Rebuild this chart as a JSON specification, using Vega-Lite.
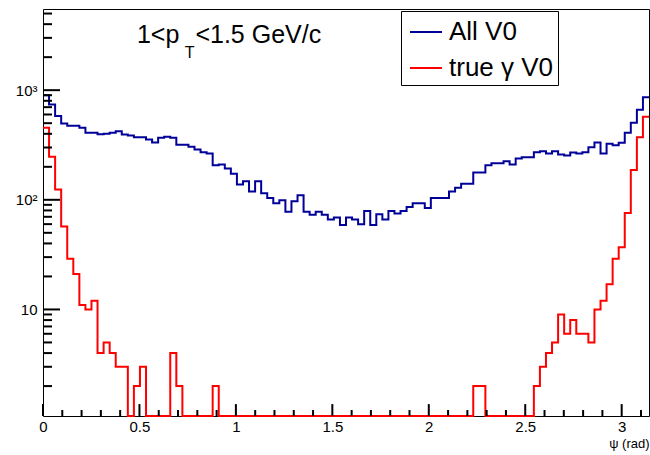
{
  "$schema": "https://vega.github.io/schema/vega-lite/v6.json",
  "width": 606,
  "height": 407,
  "autosize": "none",
  "padding": {"left": 43, "top": 9, "right": 1, "bottom": 39},
  "background": "white",
  "config": {
    "view": {"stroke": "black", "strokeWidth": 1},
    "axis": {"grid": false, "domain": false, "labelColor": "black", "labelFont": "Liberation Sans", "labelFontSize": 15, "titleFont": "Liberation Sans", "titleColor": "black", "titleFontWeight": "normal", "labelFlush": false}
  },
  "datasets": {
    "hist": [
      {"psi": 0, "All V0": 900, "true γ V0": 454},
      {"psi": 0.0314, "All V0": 741, "true γ V0": 247},
      {"psi": 0.0628, "All V0": 580, "true γ V0": 124},
      {"psi": 0.0942, "All V0": 497, "true γ V0": 57},
      {"psi": 0.1257, "All V0": 473, "true γ V0": 29},
      {"psi": 0.1571, "All V0": 473, "true γ V0": 21},
      {"psi": 0.1885, "All V0": 454, "true γ V0": 11},
      {"psi": 0.2199, "All V0": 409, "true γ V0": 10},
      {"psi": 0.2513, "All V0": 409, "true γ V0": 12},
      {"psi": 0.2827, "All V0": 397, "true γ V0": 4},
      {"psi": 0.3142, "All V0": 400, "true γ V0": 5},
      {"psi": 0.3456, "All V0": 409, "true γ V0": 4},
      {"psi": 0.3770, "All V0": 421, "true γ V0": 3},
      {"psi": 0.4084, "All V0": 394, "true γ V0": 3},
      {"psi": 0.4398, "All V0": 386, "true γ V0": 0},
      {"psi": 0.4712, "All V0": 373, "true γ V0": 2},
      {"psi": 0.5027, "All V0": 373, "true γ V0": 3},
      {"psi": 0.5341, "All V0": 355, "true γ V0": 0},
      {"psi": 0.5655, "All V0": 333, "true γ V0": 0},
      {"psi": 0.5969, "All V0": 368, "true γ V0": 0},
      {"psi": 0.6283, "All V0": 376, "true γ V0": 0},
      {"psi": 0.6597, "All V0": 368, "true γ V0": 4},
      {"psi": 0.6912, "All V0": 318, "true γ V0": 2},
      {"psi": 0.7226, "All V0": 318, "true γ V0": 0},
      {"psi": 0.7540, "All V0": 304, "true γ V0": 0},
      {"psi": 0.7854, "All V0": 287, "true γ V0": 0},
      {"psi": 0.8168, "All V0": 272, "true γ V0": 0},
      {"psi": 0.8482, "All V0": 265, "true γ V0": 0},
      {"psi": 0.8796, "All V0": 207, "true γ V0": 2},
      {"psi": 0.9111, "All V0": 210, "true γ V0": 0},
      {"psi": 0.9425, "All V0": 193, "true γ V0": 0},
      {"psi": 0.9739, "All V0": 173, "true γ V0": 0},
      {"psi": 1.0053, "All V0": 138, "true γ V0": 0},
      {"psi": 1.0367, "All V0": 148, "true γ V0": 0},
      {"psi": 1.0681, "All V0": 119, "true γ V0": 0},
      {"psi": 1.0996, "All V0": 148, "true γ V0": 0},
      {"psi": 1.1310, "All V0": 115, "true γ V0": 0},
      {"psi": 1.1624, "All V0": 104, "true γ V0": 0},
      {"psi": 1.1938, "All V0": 93, "true γ V0": 0},
      {"psi": 1.2252, "All V0": 99, "true γ V0": 0},
      {"psi": 1.2566, "All V0": 78, "true γ V0": 0},
      {"psi": 1.2881, "All V0": 97, "true γ V0": 0},
      {"psi": 1.3195, "All V0": 110, "true γ V0": 0},
      {"psi": 1.3509, "All V0": 78, "true γ V0": 0},
      {"psi": 1.3823, "All V0": 73, "true γ V0": 0},
      {"psi": 1.4137, "All V0": 78, "true γ V0": 0},
      {"psi": 1.4451, "All V0": 73, "true γ V0": 0},
      {"psi": 1.4765, "All V0": 66, "true γ V0": 0},
      {"psi": 1.5080, "All V0": 69, "true γ V0": 0},
      {"psi": 1.5394, "All V0": 59, "true γ V0": 0},
      {"psi": 1.5708, "All V0": 69, "true γ V0": 0},
      {"psi": 1.6022, "All V0": 66, "true γ V0": 0},
      {"psi": 1.6336, "All V0": 60, "true γ V0": 0},
      {"psi": 1.6650, "All V0": 79, "true γ V0": 0},
      {"psi": 1.6965, "All V0": 59, "true γ V0": 0},
      {"psi": 1.7279, "All V0": 74, "true γ V0": 0},
      {"psi": 1.7593, "All V0": 66, "true γ V0": 0},
      {"psi": 1.7907, "All V0": 79, "true γ V0": 0},
      {"psi": 1.8221, "All V0": 75, "true γ V0": 0},
      {"psi": 1.8535, "All V0": 79, "true γ V0": 0},
      {"psi": 1.8850, "All V0": 86, "true γ V0": 0},
      {"psi": 1.9164, "All V0": 93, "true γ V0": 0},
      {"psi": 1.9478, "All V0": 93, "true γ V0": 0},
      {"psi": 1.9792, "All V0": 84, "true γ V0": 0},
      {"psi": 2.0106, "All V0": 104, "true γ V0": 0},
      {"psi": 2.0420, "All V0": 104, "true γ V0": 0},
      {"psi": 2.0735, "All V0": 104, "true γ V0": 0},
      {"psi": 2.1049, "All V0": 119, "true γ V0": 0},
      {"psi": 2.1363, "All V0": 129, "true γ V0": 0},
      {"psi": 2.1677, "All V0": 140, "true γ V0": 0},
      {"psi": 2.1991, "All V0": 140, "true γ V0": 0},
      {"psi": 2.2305, "All V0": 177, "true γ V0": 2},
      {"psi": 2.2619, "All V0": 177, "true γ V0": 2},
      {"psi": 2.2934, "All V0": 207, "true γ V0": 0},
      {"psi": 2.3248, "All V0": 216, "true γ V0": 0},
      {"psi": 2.3562, "All V0": 216, "true γ V0": 0},
      {"psi": 2.3876, "All V0": 225, "true γ V0": 0},
      {"psi": 2.4190, "All V0": 210, "true γ V0": 0},
      {"psi": 2.4504, "All V0": 238, "true γ V0": 0},
      {"psi": 2.4819, "All V0": 245, "true γ V0": 0},
      {"psi": 2.5133, "All V0": 245, "true γ V0": 0},
      {"psi": 2.5447, "All V0": 272, "true γ V0": 2},
      {"psi": 2.5761, "All V0": 278, "true γ V0": 3},
      {"psi": 2.6075, "All V0": 265, "true γ V0": 4},
      {"psi": 2.6389, "All V0": 278, "true γ V0": 5},
      {"psi": 2.6704, "All V0": 259, "true γ V0": 9},
      {"psi": 2.7018, "All V0": 254, "true γ V0": 6},
      {"psi": 2.7332, "All V0": 270, "true γ V0": 8},
      {"psi": 2.7646, "All V0": 265, "true γ V0": 6},
      {"psi": 2.7960, "All V0": 272, "true γ V0": 6},
      {"psi": 2.8274, "All V0": 302, "true γ V0": 5},
      {"psi": 2.8588, "All V0": 333, "true γ V0": 10},
      {"psi": 2.8903, "All V0": 265, "true γ V0": 12},
      {"psi": 2.9217, "All V0": 324, "true γ V0": 17},
      {"psi": 2.9531, "All V0": 315, "true γ V0": 29},
      {"psi": 2.9845, "All V0": 331, "true γ V0": 37},
      {"psi": 3.0159, "All V0": 409, "true γ V0": 76},
      {"psi": 3.0473, "All V0": 505, "true γ V0": 187},
      {"psi": 3.0788, "All V0": 662, "true γ V0": 373},
      {"psi": 3.1102, "All V0": 863, "true γ V0": 571},
      {"psi": 3.1416, "All V0": 863, "true γ V0": 571}
    ],
    "xmajor": [{"v": 0}, {"v": 0.5}, {"v": 1}, {"v": 1.5}, {"v": 2}, {"v": 2.5}, {"v": 3}],
    "xminor": [{"v": 0.1}, {"v": 0.2}, {"v": 0.3}, {"v": 0.4}, {"v": 0.6}, {"v": 0.7}, {"v": 0.8}, {"v": 0.9}, {"v": 1.1}, {"v": 1.2}, {"v": 1.3}, {"v": 1.4}, {"v": 1.6}, {"v": 1.7}, {"v": 1.8}, {"v": 1.9}, {"v": 2.1}, {"v": 2.2}, {"v": 2.3}, {"v": 2.4}, {"v": 2.6}, {"v": 2.7}, {"v": 2.8}, {"v": 2.9}, {"v": 3.1}],
    "ymajor": [{"v": 10}, {"v": 100}, {"v": 1000}],
    "yminor": [{"v": 2}, {"v": 3}, {"v": 4}, {"v": 5}, {"v": 6}, {"v": 7}, {"v": 8}, {"v": 9}, {"v": 20}, {"v": 30}, {"v": 40}, {"v": 50}, {"v": 60}, {"v": 70}, {"v": 80}, {"v": 90}, {"v": 200}, {"v": 300}, {"v": 400}, {"v": 500}, {"v": 600}, {"v": 700}, {"v": 800}, {"v": 900}, {"v": 2000}, {"v": 3000}, {"v": 4000}, {"v": 5000}]
  },
  "layer": [
    {
      "data": {"name": "hist"},
      "transform": [{"fold": ["All V0", "true γ V0"], "as": ["series", "count"]}],
      "mark": {"type": "line", "interpolate": "step-after", "strokeWidth": 2, "clip": false},
      "encoding": {
        "x": {"field": "psi", "type": "quantitative",
              "scale": {"domain": [0, 3.1416], "nice": false, "zero": false},
              "axis": {"values": [0, 0.5, 1, 1.5, 2, 2.5, 3], "format": "~g", "ticks": false, "labelPadding": 3, "title": "ψ (rad)", "titleAnchor": "end", "titleAlign": "right", "titleFontSize": 13, "titlePadding": 3}},
        "y": {"field": "count", "type": "quantitative",
              "scale": {"type": "log", "domain": [1.067, 5500], "nice": false, "clamp": true},
              "axis": {"values": [10, 100, 1000], "labelExpr": "datum.value == 1000 ? '10³' : datum.value == 100 ? '10²' : '10'", "ticks": false, "labelPadding": 6, "title": null}},
        "color": {"field": "series", "type": "nominal",
                  "scale": {"domain": ["All V0", "true γ V0"], "range": ["#000099", "#ff0000"]},
                  "legend": {"orient": "none", "legendX": 358, "legendY": 2, "title": null, "strokeColor": "black", "fillColor": "white", "padding": 4, "symbolType": "stroke", "symbolSize": 1024, "symbolStrokeWidth": 2, "symbolOffset": 4, "labelOffset": 6, "labelFont": "Liberation Sans", "labelFontSize": 26, "labelColor": "black", "rowPadding": 6, "labelLimit": 300}}
      }
    },
    {
      "data": {"name": "xmajor"},
      "mark": {"type": "rule", "color": "black", "strokeWidth": 2},
      "encoding": {
        "x": {"field": "v", "type": "quantitative", "axis": null},
        "y": {"datum": 1.067, "type": "quantitative", "axis": null},
        "y2": {"datum": 1.37}
      }
    },
    {
      "data": {"name": "xminor"},
      "mark": {"type": "rule", "color": "black", "strokeWidth": 2},
      "encoding": {
        "x": {"field": "v", "type": "quantitative", "axis": null},
        "y": {"datum": 1.067, "type": "quantitative", "axis": null},
        "y2": {"datum": 1.21}
      }
    },
    {
      "data": {"name": "ymajor"},
      "mark": {"type": "rule", "color": "black", "strokeWidth": 2},
      "encoding": {
        "y": {"field": "v", "type": "quantitative", "axis": null},
        "x": {"datum": 0, "type": "quantitative", "axis": null},
        "x2": {"datum": 0.088}
      }
    },
    {
      "data": {"name": "yminor"},
      "mark": {"type": "rule", "color": "black", "strokeWidth": 2},
      "encoding": {
        "y": {"field": "v", "type": "quantitative", "axis": null},
        "x": {"datum": 0, "type": "quantitative", "axis": null},
        "x2": {"datum": 0.0467}
      }
    },
    {
      "data": {"values": [{"t": "1<p"}]},
      "mark": {"type": "text", "align": "left", "baseline": "alphabetic", "font": "Liberation Sans", "fontSize": 25, "color": "black"},
      "encoding": {
        "x": {"datum": 0.487, "type": "quantitative", "axis": null},
        "y": {"datum": 2675, "type": "quantitative", "axis": null},
        "text": {"field": "t"}
      }
    },
    {
      "data": {"values": [{"t": "T"}]},
      "mark": {"type": "text", "align": "left", "baseline": "alphabetic", "font": "Liberation Sans", "fontSize": 16, "color": "black"},
      "encoding": {
        "x": {"datum": 0.735, "type": "quantitative", "axis": null},
        "y": {"datum": 1963, "type": "quantitative", "axis": null},
        "text": {"field": "t"}
      }
    },
    {
      "data": {"values": [{"t": "<1.5 GeV/c"}]},
      "mark": {"type": "text", "align": "left", "baseline": "alphabetic", "font": "Liberation Sans", "fontSize": 25, "color": "black"},
      "encoding": {
        "x": {"datum": 0.79, "type": "quantitative", "axis": null},
        "y": {"datum": 2675, "type": "quantitative", "axis": null},
        "text": {"field": "t"}
      }
    }
  ],
  "resolve": {"axis": {"x": "independent", "y": "independent"}}
}
